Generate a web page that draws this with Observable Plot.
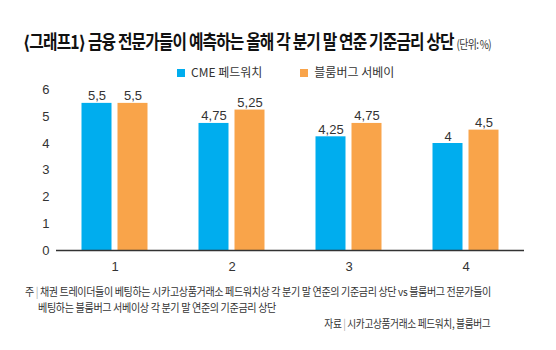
<!DOCTYPE html>
<html>
<head>
<meta charset="utf-8">
<script src="https://cdn.jsdelivr.net/npm/d3@7"></script>
<script src="https://cdn.jsdelivr.net/npm/@observablehq/plot@0.6"></script>
<style>
  html, body { margin: 0; padding: 0; background: #fff; }
  body { width: 556px; height: 350px; position: relative; overflow: hidden; font-family: "Noto Sans CJK KR", "Noto Sans", sans-serif; color: #222; }
  .abs { position: absolute; white-space: nowrap; }
  #title { left: 23px; top: 29px; font-size: 19px; font-weight: 700; color: #111; letter-spacing: -1px; transform-origin: left top; line-height: 24px; }
  #title .unit { font-size: 12px; font-weight: 400; color: #333; letter-spacing: -0.8px; }
  .br { font-family: "DejaVu Sans", sans-serif; font-weight: 700; }
  #legend { left: 177px; top: 64px; font-size: 12px; color: #333; line-height: 16px; }
  .sw { display: inline-block; width: 8px; height: 8px; vertical-align: 0px; margin-right: 6px; }
  .item { display: inline-block; margin-right: 38px; }
  #chart { left: 0; top: 80px; }
  .note { font-size: 11px; color: #333; letter-spacing: -0.4px; transform-origin: left top; line-height: 16px; }
  .sep { color: #aaa; margin: 0 2px; }
</style>
</head>
<body>
<div id="title" class="abs"><span class="br">⟨</span>그래프1<span class="br">⟩</span> 금융 전문가들이 예측하는 올해 각 분기 말 연준 기준금리 상단 <span class="unit">(단위: %)</span></div>
<div id="legend" class="abs"></div>
<div id="chart" class="abs"></div>
<div id="n1" class="abs note" style="left:25px; top:283px;">주<span class="sep">|</span>채권 트레이더들이 베팅하는 시카고상품거래소 페드워치상 각 분기 말 연준의 기준금리 상단 vs 블룸버그 전문가들이</div>
<div id="n2" class="abs note" style="left:38px; top:299px;">베팅하는 블룸버그 서베이상 각 분기 말 연준의 기준금리 상단</div>
<div id="src" class="abs note" style="right:66px; top:315px; transform-origin: right top;">자료<span class="sep">|</span>시카고상품거래소 페드워치, 블룸버그</div>
<script>
const quarters = ["1", "2", "3", "4"];
const seriesNames = ["CME 페드워치", "블룸버그 서베이"];
const seriesColors = ["#00ADEE", "#F9A44A"];
const cmeValues = [5.5, 4.75, 4.25, 4];
const bloombergValues = [5.5, 5.25, 4.75, 4.5];
const yTicks = [0, 1, 2, 3, 4, 5, 6];

const data = [];
quarters.forEach((q, i) => {
  data.push({q, series: seriesNames[0], value: cmeValues[i]});
  data.push({q, series: seriesNames[1], value: bloombergValues[i]});
});
const fmt = v => String(v).replace(".", ",");

// legend
const legend = document.getElementById("legend");
seriesNames.forEach((s, i) => {
  const it = document.createElement("span");
  it.className = "item";
  it.innerHTML = `<span class="sw" style="background:${seriesColors[i]}"></span>${s}`;
  legend.appendChild(it);
});

const plot = Plot.plot({
  width: 556,
  height: 200,
  marginLeft: 55.5,
  marginRight: 32.5,
  marginTop: 9.5,
  marginBottom: 30,
  style: {fontFamily: "'Liberation Sans', Arial, sans-serif", fontSize: "13px", color: "#333", background: "transparent"},
  fx: {domain: quarters, padding: 0, label: null, axis: "bottom", tickSize: 0, tickPadding: 11},
  x: {domain: seriesNames, paddingInner: 1/6, paddingOuter: 0.708, axis: null},
  y: {domain: [0, 6], ticks: yTicks, tickSize: 0, tickPadding: 7, label: null, tickFormat: d => d},
  color: {domain: seriesNames, range: seriesColors},
  marks: [
    Plot.barY(data, {fx: "q", x: "series", y: "value", fill: "series"}),
    Plot.text(data, {fx: "q", x: "series", y: "value", text: d => fmt(d.value), dy: -3, lineAnchor: "bottom", fill: "#333", fontSize: 13}),
    Plot.ruleY([0], {stroke: "#333", strokeWidth: 1.5})
  ]
});
document.getElementById("chart").appendChild(plot);

// fit text widths to reference
function fit(id, target) {
  const el = document.getElementById(id);
  const w = el.getBoundingClientRect().width;
  el.style.transform = `scaleX(${target / w})`;
}
fit("title", 468);
fit("n1", 466);
fit("n2", 238);
fit("src", 166);
</script>
</body>
</html>
